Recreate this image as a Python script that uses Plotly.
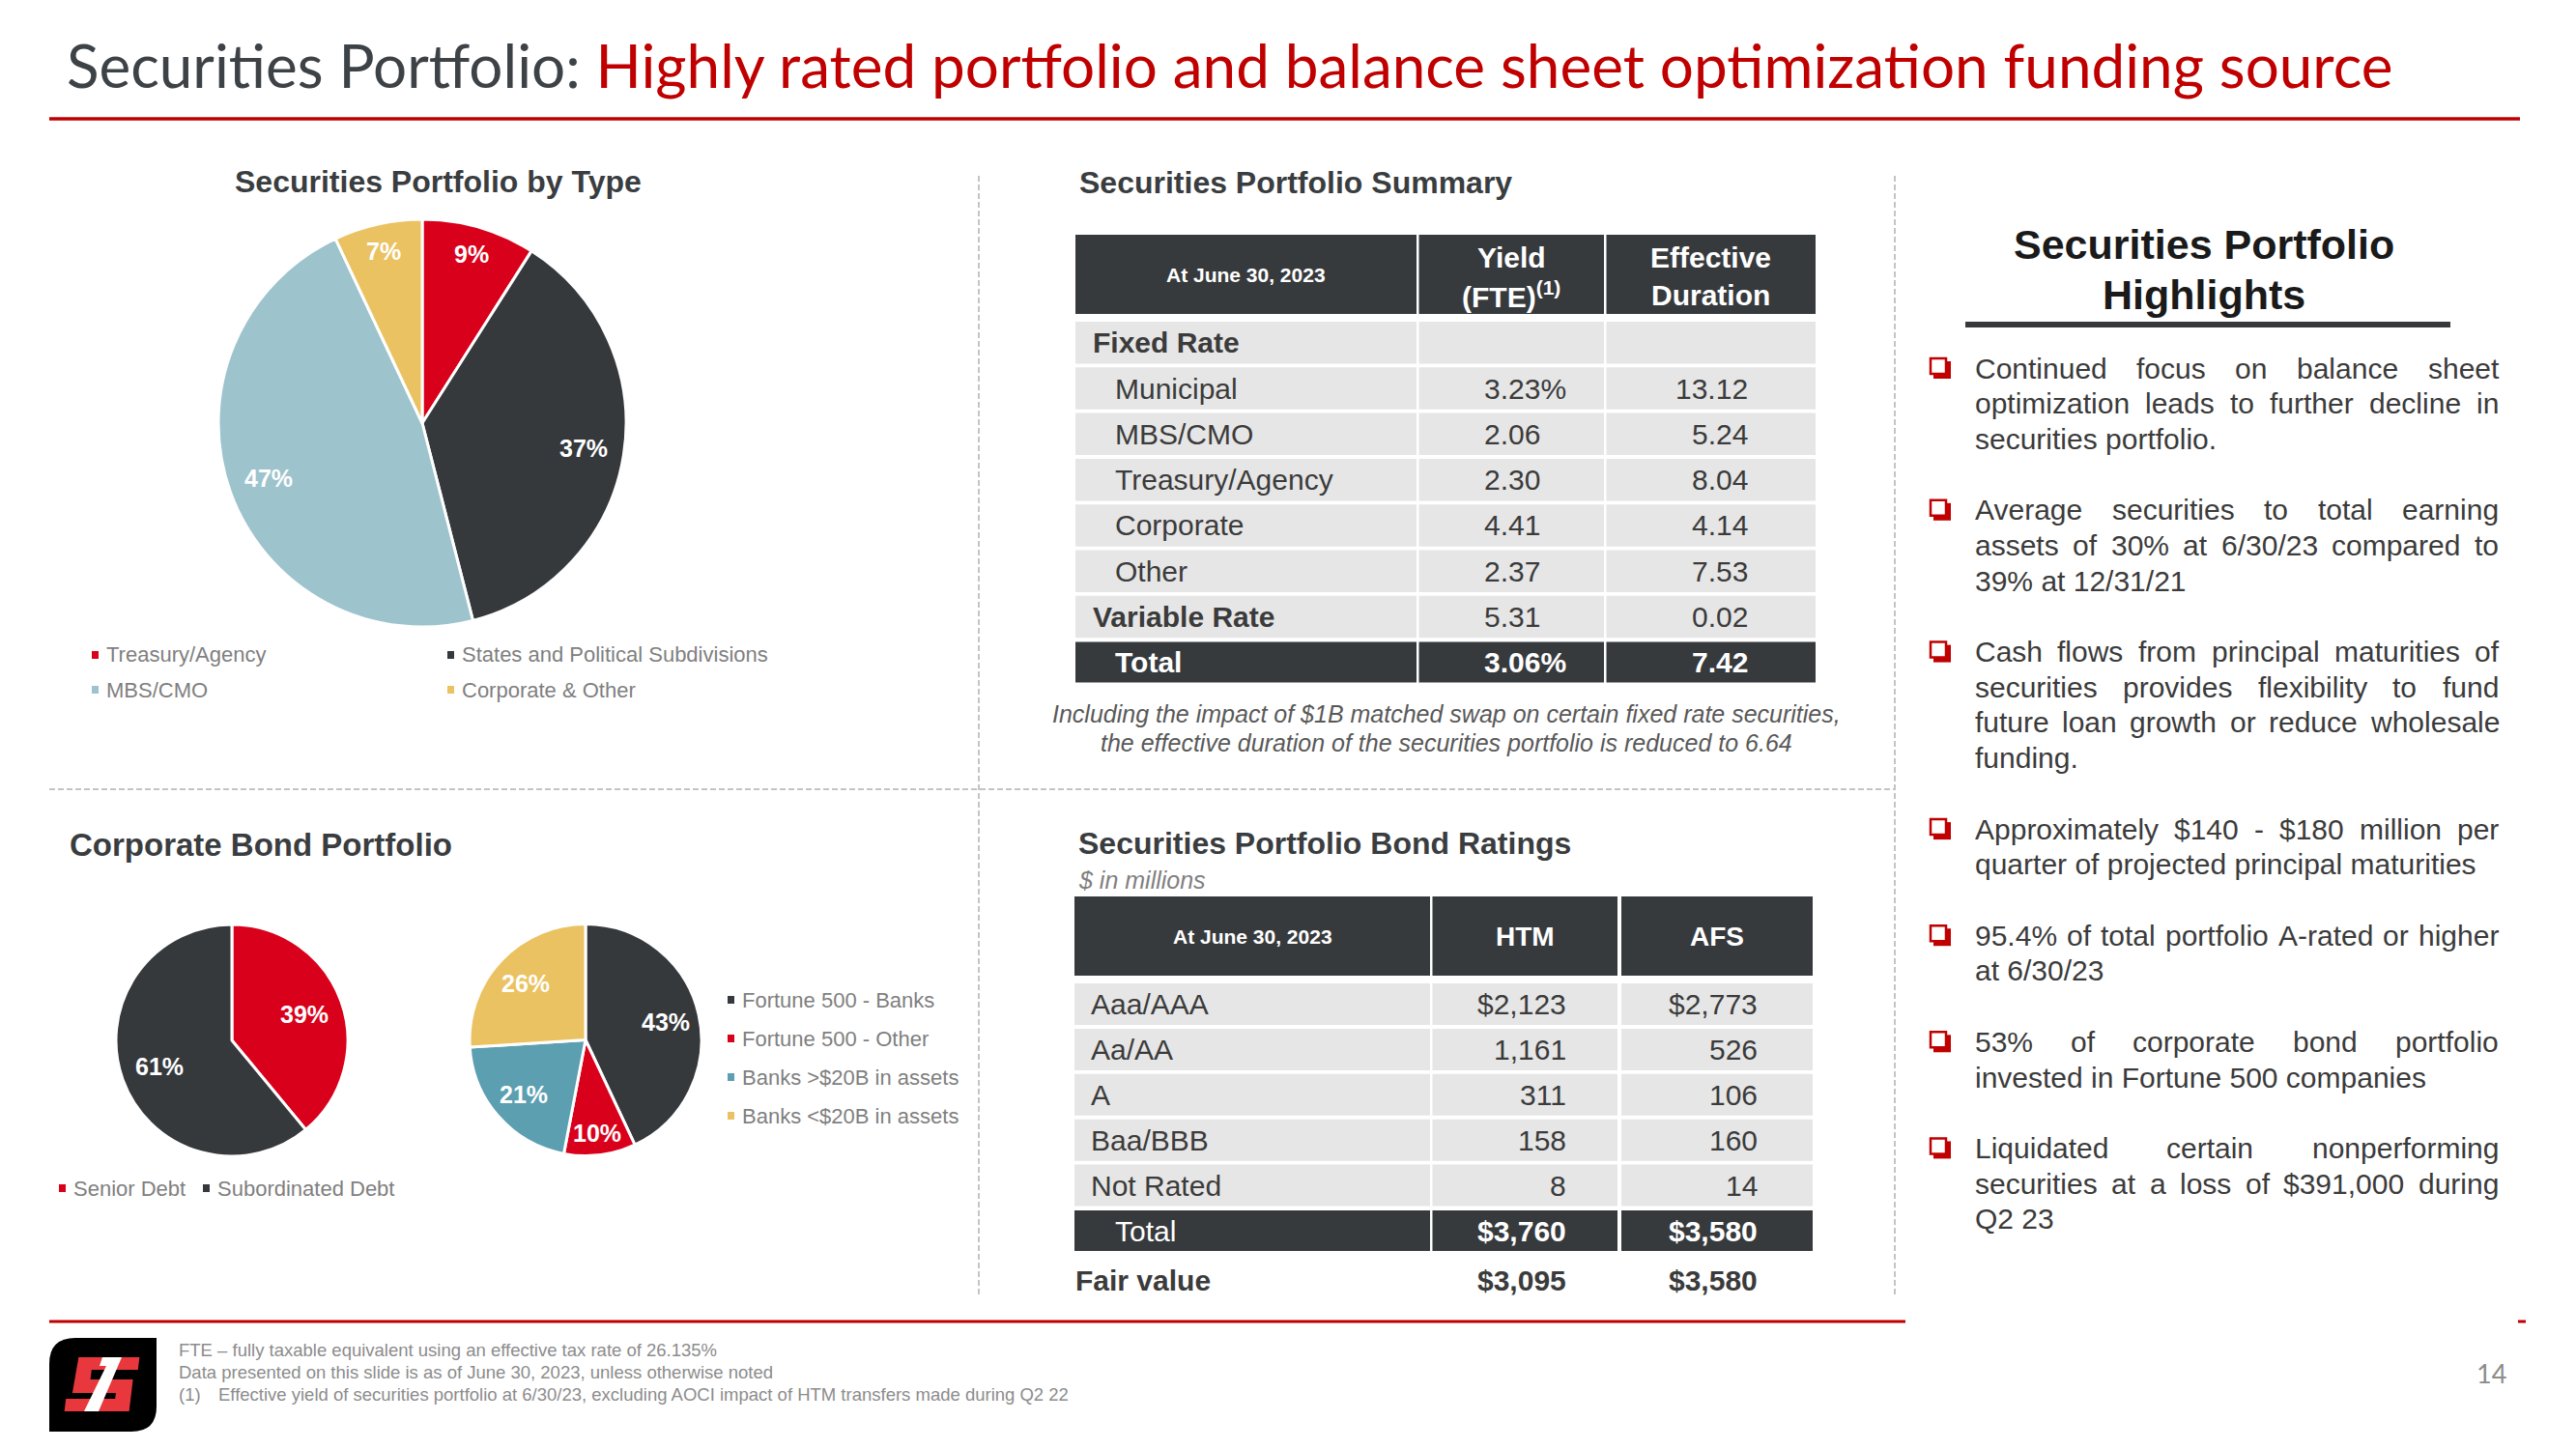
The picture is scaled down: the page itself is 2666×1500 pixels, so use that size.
import math
import plotly.graph_objects as go

W, H = 2666, 1500

# ---------------- data ----------------
title_lead = "Securities Portfolio: "
title_claim = "Highly rated portfolio and balance sheet optimization funding source"

type_title = "Securities Portfolio by Type"
type_labels = ["Treasury/Agency", "States and Political Subdivisions", "MBS/CMO", "Corporate & Other"]
type_values = [9, 37, 47, 7]

corp_title = "Corporate Bond Portfolio"
debt_labels = ["Senior Debt", "Subordinated Debt"]
debt_values = [39, 61]
issuer_labels = ["Fortune 500 - Banks", "Fortune 500 - Other", "Banks >$20B in assets", "Banks <$20B in assets"]
issuer_values = [43, 10, 21, 26]

summary_title = "Securities Portfolio Summary"
summary_date = "At June 30, 2023"
summary_headers = [["Yield", "(FTE)<sup>(1)</sup>"], ["Effective", "Duration"]]
summary_rows = ["Fixed Rate", "Municipal", "MBS/CMO", "Treasury/Agency", "Corporate", "Other", "Variable Rate"]
summary_group = [True, False, False, False, False, False, True]
summary_yield = [None, 3.23, 2.06, 2.30, 4.41, 2.37, 5.31]
summary_duration = [None, 13.12, 5.24, 8.04, 4.14, 7.53, 0.02]
summary_total = ("Total", 3.06, 7.42)
swap_duration = 6.64
swap_note = ["Including the impact of $1B matched swap on certain fixed rate securities,",
             "the effective duration of the securities portfolio is reduced to {:.2f}"]

ratings_title = "Securities Portfolio Bond Ratings"
ratings_unit = "$ in millions"
ratings_date = "At June 30, 2023"
ratings_headers = ["HTM", "AFS"]
rating_rows = ["Aaa/AAA", "Aa/AA", "A", "Baa/BBB", "Not Rated"]
rating_htm = [2123, 1161, 311, 158, 8]
rating_afs = [2773, 526, 106, 160, 14]
rating_total = ("Total", 3760, 3580)
rating_fair = ("Fair value", 3095, 3580)

highlights_title = ["Securities Portfolio", "Highlights"]
highlights = [
    ["Continued focus on balance sheet", "optimization leads to further decline in", "securities portfolio."],
    ["Average securities to total earning", "assets of 30% at 6/30/23 compared to", "39% at 12/31/21"],
    ["Cash flows from principal maturities of", "securities provides flexibility to fund",
     "future loan growth or reduce wholesale", "funding."],
    ["Approximately $140 - $180 million per", "quarter of projected principal maturities"],
    ["95.4% of total portfolio A-rated or higher", "at 6/30/23"],
    ["53% of corporate bond portfolio", "invested in Fortune 500 companies"],
    ["Liquidated certain nonperforming", "securities at a loss of $391,000 during", "Q2 23"],
]
footnotes = ["FTE \u2013 fully taxable equivalent using an effective tax rate of 26.135%",
             "Data presented on this slide is as of June 30, 2023, unless otherwise noted"]
footnote_marker = "(1)"
footnote_1 = "Effective yield of securities portfolio at 6/30/23, excluding AOCI impact of HTM transfers made during Q2 22"
page_number = "14"

# ---------------- style ----------------
BODY = "Liberation Sans, Arial, sans-serif"
HEAD = "Lato, Calibri, sans-serif"
RED = "#c00000"
PIE_RED = "#d9001b"
DARK = "#35393c"
LIGHTBLUE = "#9dc3cd"
YELLOW = "#ebc262"
TEAL = "#5b9fb0"
TXT = "#3b3b3b"
TITLE_GRAY = "#3a3d40"
LEG_GRAY = "#7f7f7f"
CELL = "#e6e6e6"
HDR = "#373a3d"
DASH = "#c4c4c4"
FOOT = "#8c8c8c"

type_colors = [PIE_RED, DARK, LIGHTBLUE, YELLOW]
debt_colors = [PIE_RED, DARK]
issuer_colors = [DARK, PIE_RED, TEAL, YELLOW]


def X(px):
    return px / W


def Y(py):
    return 1 - py / H


def esc(s):
    return s.replace("&", "&amp;").replace("<", "&lt;").replace(">", "&gt;")


annotations = []
shapes = []


def text(x, y, s, size, color, family=BODY, xanchor="left", bold=False, italic=False):
    if bold:
        s = "<b>" + s + "</b>"
    if italic:
        s = "<i>" + s + "</i>"
    annotations.append(dict(x=X(x), y=Y(y), xref="paper", yref="paper", text=s, showarrow=False,
                            xanchor=xanchor, yanchor="middle", borderpad=0,
                            font=dict(family=family, size=size, color=color)))


def rect(x0, y0, x1, y1, fill, lw=0, lc=None):
    shapes.append(dict(type="rect", xref="paper", yref="paper", x0=X(x0), x1=X(x1), y0=Y(y1), y1=Y(y0),
                       fillcolor=fill, line=dict(width=lw, color=lc or fill)))


def hline(x0, x1, y, color, width, dash=None):
    shapes.append(dict(type="line", xref="paper", yref="paper", x0=X(x0), x1=X(x1), y0=Y(y), y1=Y(y),
                       line=dict(color=color, width=width, dash=dash)))


def vline(x, y0, y1, color, width, dash=None):
    shapes.append(dict(type="line", xref="paper", yref="paper", x0=X(x), x1=X(x), y0=Y(y0), y1=Y(y1),
                       line=dict(color=color, width=width, dash=dash)))


def poly(points, fill):
    d = "M" + " L".join(f"{X(px):.6f},{Y(py):.6f}" for px, py in points) + " Z"
    shapes.append(dict(type="path", xref="paper", yref="paper", path=d, fillcolor=fill, line=dict(width=0)))


# Arial / Liberation Sans advance widths (1/1000 em)
AW = {' ': 278, ',': 278, '.': 278, '-': 333, '/': 278, '$': 556, '%': 889, '(': 333, ')': 333, ':': 278}
for c in "0123456789":
    AW[c] = 556
AW.update(dict(A=667, B=667, C=722, D=722, E=667, F=611, G=778, H=722, I=278, J=500, K=667, L=556, M=833,
               N=722, O=778, P=667, Q=778, R=722, S=667, T=611, U=722, V=667, W=944, X=667, Y=667, Z=611,
               a=556, b=556, c=500, d=556, e=556, f=278, g=556, h=556, i=222, j=222, k=500, l=222, m=833,
               n=556, o=556, p=556, q=556, r=333, s=500, t=278, u=556, v=500, w=722, x=500, y=500, z=500))


def tw(s, size):
    return sum(AW.get(c, 556) for c in s) / 1000 * size


# ---------------- figure ----------------
fig = go.Figure()


def pie_domain(cx, cy, r):
    return dict(x=[X(cx - r), X(cx + r)], y=[Y(cy + r), Y(cy - r)])


def add_pie(labels, values, colors, cx, cy, r, rad_big, rad_small):
    fig.add_trace(go.Pie(labels=labels, values=values, sort=False, direction="clockwise", rotation=0,
                         marker=dict(colors=colors, line=dict(color="white", width=3)),
                         textinfo="none", hoverinfo="label+percent", showlegend=False,
                         domain=pie_domain(cx, cy, r)))
    tot = sum(values)
    cum = 0
    for v in values:
        mid = (cum + v / 2) / tot * 2 * math.pi
        cum += v
        rr = rad_small if v / tot < 0.15 else rad_big
        text(cx + rr * r * math.sin(mid), cy - rr * r * math.cos(mid), f"{v / tot * 100:.0f}%",
             25, "white", xanchor="center", bold=True)


def legend_item(x, y, label, color):
    rect(x, y - 4, x + 7, y + 4, color)
    text(x + 14, y, esc(label), 22, LEG_GRAY)


# ---- title ----
text(68, 67, f"{title_lead}<span style='color:{RED}'>{title_claim}</span>", 62, "#3d4247", family=HEAD)
hline(51, 2608, 123, RED, 3.5)

# ---- separators ----
vline(1013, 182, 1343, DASH, 2, "6px,3px")
vline(1961, 182, 1343, DASH, 2, "6px,3px")
hline(51, 1961, 817, DASH, 2, "6px,3px")

# ---- pie 1 ----
text(453, 188, type_title, 32, TITLE_GRAY, xanchor="center", bold=True)
add_pie(type_labels, type_values, type_colors, 437, 438, 211, 0.80, 0.865)
leg_cols = [95, 463]
leg_rows = [678, 714]
for i, (lab, col) in enumerate(zip(type_labels, type_colors)):
    legend_item(leg_cols[i % 2], leg_rows[i // 2], lab, col)

# ---- pies 2 & 3 ----
text(71, 874, corp_title, 33, TITLE_GRAY, bold=True)
add_pie(debt_labels, debt_values, debt_colors, 240, 1077, 120, 0.66, 0.66)
for i, (lab, col) in enumerate(zip(debt_labels, debt_colors)):
    legend_item([61, 210][i], 1230, lab, col)
add_pie(issuer_labels, issuer_values, issuer_colors, 606, 1076.5, 120, 0.71, 0.81)
for i, (lab, col) in enumerate(zip(issuer_labels, issuer_colors)):
    legend_item(753, 1035 + 40 * i, lab, col)

# ---- summary table ----
text(1116, 189, summary_title, 32, TITLE_GRAY, bold=True)
t1_cols = [(1113, 1466), (1468.5, 1660), (1662.5, 1879)]
t1_hdr = (243, 325)
for x0, x1 in t1_cols:
    rect(x0, t1_hdr[0], x1, t1_hdr[1], HDR)
hc = (t1_hdr[0] + t1_hdr[1]) / 2
text((t1_cols[0][0] + t1_cols[0][1]) / 2, hc, summary_date, 21, "white", xanchor="center", bold=True)
for (x0, x1), lines in zip(t1_cols[1:], summary_headers):
    text((x0 + x1) / 2, hc - 17, lines[0], 30, "white", xanchor="center", bold=True)
    text((x0 + x1) / 2, hc + 21, lines[1], 30, "white", xanchor="center", bold=True)

row_top, pitch, rh = 333, 47.3, 43.5
first_val = next(i for i, v in enumerate(summary_yield) if v is not None)
for i, name in enumerate(summary_rows):
    y0 = row_top + i * pitch
    for x0, x1 in t1_cols:
        rect(x0, y0, x1, y0 + rh, CELL)
    yc = y0 + rh / 2
    if summary_group[i]:
        text(1130, yc, name, 30, TXT, bold=True)
    else:
        text(1153, yc, esc(name), 30, TXT)
    if summary_yield[i] is not None:
        s = f"{summary_yield[i]:.2f}" + ("%" if i == first_val else "")
        text(1535, yc, s, 30, TXT)
    if summary_duration[i] is not None:
        text(1810, yc, f"{summary_duration[i]:.2f}", 30, TXT, xanchor="right")
ty0 = 664.5
for x0, x1 in t1_cols:
    rect(x0, ty0, x1, ty0 + 42, HDR)
tyc = ty0 + 21
text(1153, tyc, summary_total[0], 30, "white", bold=True)
text(1535, tyc, f"{summary_total[1]:.2f}%", 30, "white", bold=True)
text(1810, tyc, f"{summary_total[2]:.2f}", 30, "white", xanchor="right", bold=True)
text(1497, 739, swap_note[0], 25, "#595959", xanchor="center", italic=True)
text(1497, 769, swap_note[1].format(swap_duration), 25, "#595959", xanchor="center", italic=True)

# ---- ratings table ----
text(1115, 873, ratings_title, 32, TITLE_GRAY, bold=True)
text(1115, 911, ratings_unit, 25, LEG_GRAY, italic=True)
t2_cols = [(1112, 1480), (1482.5, 1674), (1678, 1876)]
t2_hdr = (928, 1010)
for x0, x1 in t2_cols:
    rect(x0, t2_hdr[0], x1, t2_hdr[1], HDR)
hc2 = (t2_hdr[0] + t2_hdr[1]) / 2
text((t2_cols[0][0] + t2_cols[0][1]) / 2, hc2, ratings_date, 21, "white", xanchor="center", bold=True)
for (x0, x1), lab in zip(t2_cols[1:], ratings_headers):
    text((x0 + x1) / 2, hc2, lab, 28, "white", xanchor="center", bold=True)


def money(v, dollar):
    return ("$" if dollar else "") + f"{v:,}"


r2_top, pitch2, rh2 = 1018, 46.9, 43
for i, name in enumerate(rating_rows):
    y0 = r2_top + i * pitch2
    for x0, x1 in t2_cols:
        rect(x0, y0, x1, y0 + rh2, CELL)
    yc = y0 + rh2 / 2
    text(1128, yc, name, 30, TXT)
    text(1622, yc, money(rating_htm[i], i == 0), 30, TXT, xanchor="right")
    text(1820, yc, money(rating_afs[i], i == 0), 30, TXT, xanchor="right")
ty2 = 1253
for x0, x1 in t2_cols:
    rect(x0, ty2, x1, ty2 + 42, HDR)
text(1153, ty2 + 21, rating_total[0], 30, "white")
text(1622, ty2 + 21, money(rating_total[1], True), 30, "white", xanchor="right", bold=True)
text(1820, ty2 + 21, money(rating_total[2], True), 30, "white", xanchor="right", bold=True)
text(1112, 1325, rating_fair[0], 30, TXT, bold=True)
text(1622, 1325, money(rating_fair[1], True), 30, TXT, xanchor="right", bold=True)
text(1820, 1325, money(rating_fair[2], True), 30, TXT, xanchor="right", bold=True)

# ---- highlights panel ----
text(2281, 253, highlights_title[0], 43, "#1a1a1a", xanchor="center", bold=True)
text(2281, 305, highlights_title[1], 43, "#1a1a1a", xanchor="center", bold=True)
rect(2034, 333, 2536, 339, HDR)

TX0, TX1, FS, LP = 2043, 2585, 30, 36.7
y = 381
for para in highlights:
    # bullet: shadowed hollow square
    rect(2001, y - 7, 2019, y + 11, RED)
    rect(1998, y - 10, 2014, y + 6, "white", 2.5, RED)
    for li, line in enumerate(para):
        ly = y + li * LP
        words = line.split()
        if li == len(para) - 1 or len(words) == 1:
            text(TX0, ly, line, FS, TXT)
        else:
            widths = [tw(wd, FS) for wd in words]
            gap = (TX1 - TX0 - sum(widths)) / (len(words) - 1)
            xx = TX0
            for wd, wdt in zip(words, widths):
                text(xx, ly, wd, FS, TXT)
                xx += wdt + gap
    y += (len(para) + 1) * LP

# ---- footer ----
hline(51, 1972, 1368, RED, 3)
hline(2606, 2614, 1368, RED, 3)
text(184, 1397, footnotes[0], 18.5, FOOT)
text(184, 1420, footnotes[1], 18.5, FOOT)
text(184, 1443, footnote_marker, 18.5, FOOT)
text(225, 1443, footnote_1, 18.5, FOOT)
text(2578, 1421, page_number, 27, FOOT, family=HEAD, xanchor="center")

# logo
shapes.append(dict(type="path", xref="paper", yref="paper", fillcolor="#000000", line=dict(width=0),
                   path=(f"M{X(78)},{Y(1385)} L{X(162)},{Y(1385)} L{X(162)},{Y(1456)} "
                         f"Q{X(162)},{Y(1482)} {X(136)},{Y(1482)} L{X(51)},{Y(1482)} L{X(51)},{Y(1412)} "
                         f"Q{X(51)},{Y(1385)} {X(78)},{Y(1385)} Z")))
s_pts = [(78, 1405), (141, 1405), (141, 1418), (93, 1418), (93, 1428), (137, 1428), (137, 1461),
         (70, 1461), (70, 1448), (121, 1448), (121, 1442), (76, 1442)]
poly([(px + (1433 - py) * 0.12, py) for px, py in s_pts], "#e8383d")
poly([(87, 1461), (102, 1461), (126, 1405), (106, 1405), (103, 1414), (110, 1414)], "white")

fig.update_layout(width=W, height=H, margin=dict(l=0, r=0, t=0, b=0), paper_bgcolor="white",
                  plot_bgcolor="white", showlegend=False, annotations=annotations, shapes=shapes)

fig.write_html("out.html", config={"displayModeBar": False},
               post_script="document.body.style.margin='0';document.body.style.overflow='hidden';")
